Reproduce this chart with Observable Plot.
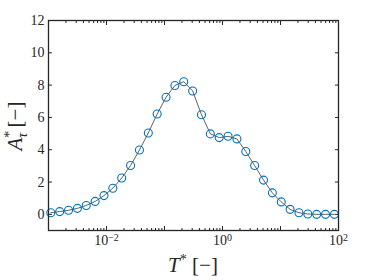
<!DOCTYPE html>
<html><head><meta charset="utf-8">
<script src="https://cdn.jsdelivr.net/npm/d3@7"></script>
<script src="https://cdn.jsdelivr.net/npm/@observablehq/plot@0.6"></script>
<style>body{margin:0;background:#fff} svg{display:block}</style>
</head><body><div id="chart"></div>
<script>
const Tstar = [0.001096, 0.001559, 0.002216, 0.003150, 0.004479, 0.006368, 0.009054, 0.01287, 0.01830, 0.02602, 0.03698,
  0.05258, 0.07475, 0.1063, 0.1511, 0.2148, 0.3054, 0.4342, 0.6172, 0.8774, 1.247, 1.774, 2.521, 3.584, 5.096, 7.244,
  10.30, 14.64, 20.82, 29.59, 42.07, 59.81, 85.04];
const Atau = [0.1, 0.17, 0.25, 0.37, 0.55, 0.8, 1.16, 1.62, 2.25, 3.02, 3.98,
  5.04, 6.21, 7.25, 7.98, 8.21, 7.64, 6.17, 4.98, 4.75, 4.83, 4.67, 3.89, 3.02, 2.12, 1.33,
  0.77, 0.31, 0.1, 0.02, 0.0, 0.0, 0.0];
const xMajor = [1e-3, 1e-2, 1e-1, 1, 10, 100];
const xLabeled = [1e-2, 1, 100];
const xLabelExp = ["−2", "0", "2"];
const yTicks = [0, 2, 4, 6, 8, 10, 12];
const xMinor = xMajor.slice(0, -1).flatMap(d => [2,3,4,5,6,7,8,9].map(m => m * d));

const data = Tstar.map((t, i) => ({T: t, A: Atau[i]}));
const ink = "#262626";
const ff = "'Liberation Serif', serif";
const svg = Plot.plot({
  width: 374, height: 280,
  marginLeft: 48, marginRight: 36, marginTop: 20, marginBottom: 50,
  style: {fontFamily: ff, fontSize: "14px", color: ink, background: "white"},
  x: {type: "log", domain: [1e-3, 100], axis: null},
  y: {domain: [-1, 12], axis: null},
  marks: [
    Plot.line(data, {x: "T", y: "A", stroke: "#3a3a3a", strokeWidth: 0.8}),
    Plot.dot(data, {x: "T", y: "A", r: 4, stroke: "#0072BD", strokeWidth: 1.1, fill: "none"}),
    Plot.axisX(xMajor, {anchor: "bottom", label: null, tickSize: -4, tickFormat: () => "", stroke: ink}),
    Plot.axisX(xMinor, {anchor: "bottom", label: null, tickSize: -2, tickFormat: () => "", stroke: ink}),
    Plot.axisX(xMajor, {anchor: "top", label: null, tickSize: -4, tickFormat: () => "", stroke: ink}),
    Plot.axisX(xMinor, {anchor: "top", label: null, tickSize: -2, tickFormat: () => "", stroke: ink}),
    Plot.axisX(xLabeled, {anchor: "bottom", label: null, tickSize: 0, tickPadding: 5, fontSize: 14, fontFamily: ff, fill: ink,
      tickFormat: d => "10" + xLabelExp[xLabeled.indexOf(d)]}),
    Plot.axisY(yTicks, {anchor: "left", label: null, tickSize: -4, tickPadding: 8, fontSize: 14, fontFamily: ff, fill: ink, stroke: ink, tickFormat: d => String(d)}),
    Plot.axisY(yTicks, {anchor: "right", label: null, tickSize: -4, tickFormat: () => "", stroke: ink}),
    Plot.frame({stroke: ink, strokeWidth: 1.3})
  ]
});
const s = d3.select(svg);
s.selectAll("text").attr("font-family", ff);
// superscript exponents on x tick labels
s.selectAll('g[aria-label="x-axis tick label"] text').each(function () {
  const t = d3.select(this);
  const str = t.text();
  if (!str.startsWith("10") || str.length < 3) return;
  const exp = str.slice(2);
  t.text(null);
  t.append("tspan").text("10");
  t.append("tspan").attr("font-size", 10).attr("dy", "-0.45em").text(exp);
});
const xl = s.append("text").attr("x", 193).attr("y", 272).attr("text-anchor", "middle")
  .attr("font-family", ff).attr("font-size", 21).attr("fill", ink);
xl.append("tspan").attr("font-style", "italic").text("T");
xl.append("tspan").attr("font-size", 14).attr("dy", -8).text("*");
xl.append("tspan").attr("dy", 8).text(" [−]");
const yl = s.append("text").attr("transform", "translate(22,126) rotate(-90)").attr("text-anchor", "middle")
  .attr("font-family", ff).attr("font-size", 21).attr("fill", ink);
yl.append("tspan").attr("font-style", "italic").text("A");
yl.append("tspan").attr("font-size", 14).attr("dy", -8).text("*");
yl.append("tspan").attr("font-size", 14).attr("font-style", "italic").attr("dx", -7).attr("dy", 13).text("τ");
yl.append("tspan").attr("dy", -5).text(" [−]");
document.getElementById("chart").append(svg);
</script></body></html>
